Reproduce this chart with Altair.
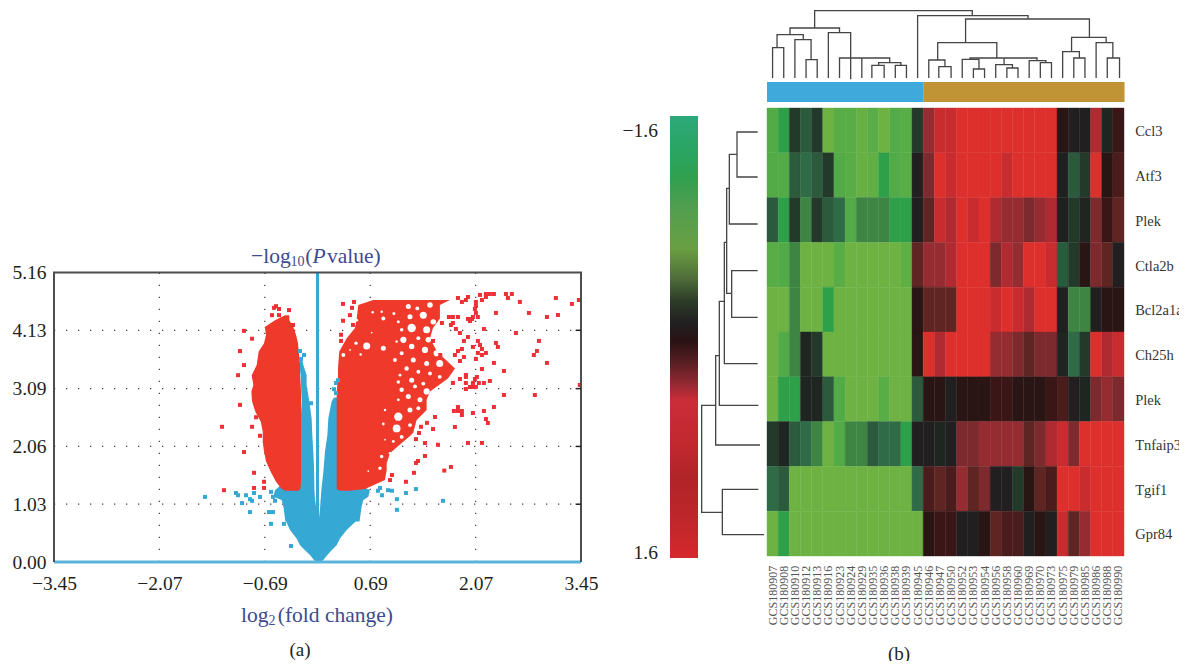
import altair as alt
import pandas as pd

FONT = "Liberation Serif"
NAVY = "#3d4b8f"
INK = "#231f20"
RED = "#ef3a2b"
RED_PT = "#ee2f36"
BLUE = "#36a8d4"

# ---------- volcano data ----------
x_ticks = [-3.45, -2.07, -0.69, 0.69, 2.07, 3.45]
y_ticks = [0.00, 1.03, 2.06, 3.09, 4.13, 5.16]
grid_x = [-2.07, -0.69, 0.69, 2.07]
grid_y = [1.03, 2.06, 3.09, 4.13]

left_y = [4.40,4.31,4.19,4.05,3.90,3.75,3.51,3.33,3.155,3.04,2.86,2.68,2.50,2.32,2.14,1.97,1.79,1.61,1.43,1.30,1.27]
left_l = [-.425,-.556,-.691,-.674,-.70,-.77,-.796,-.861,-.84,-.866,-.857,-.814,-.743,-.717,-.717,-.70,-.674,-.613,-.543,-.469,-.42]
left_r = [-.369,-.369,-.317,-.281,-.255,-.246,-.229,-.229,-.22,-.216,-.216,-.216,-.216,-.216,-.216,-.216,-.216,-.216,-.216,-.225,-.251]

right_y = [4.67,4.58,4.34,4.17,3.99,3.75,3.45,3.27,3.04,2.89,2.71,2.53,2.29,2.12,1.94,1.76,1.64,1.46,1.30,1.27]
right_l = [.73,.534,.513,.491,.382,.285,.268,.268,.251,.251,.251,.251,.251,.251,.251,.251,.251,.251,.251,.295]
right_r = [1.734,1.603,1.603,1.512,1.473,1.564,1.80,1.708,1.473,1.429,1.429,1.298,1.25,1.102,.949,.906,.906,.883,.622,.425]

hole_x = [.722,.84,.862,.513,.709,.504,.644,.862,.565,.338,.425,1.0,1.058,1.189,1.307,1.473,1.669,1.211,1.385,1.516,1.233,1.429,1.582,1.102,1.124,1.32,1.451,1.036,1.233,1.407,1.56,1.102,1.014,1.254,1.429,1.6,1.167,1.32,1.473,1.6,1.08,1.233,1.385,1.058,1.102,1.276,1.429,1.189,1.342,1.058,.884,1.058,1.211,1.32,1.036,1.211,1.254,1.102,.993,.862,.884,1.167,.84,.949,.818,1.058,.665]
hole_y = [4.45,4.46,4.34,4.31,4.09,3.90,3.85,3.81,3.70,3.69,3.78,4.43,4.28,4.552,4.52,4.58,4.57,4.37,4.40,4.28,4.17,4.14,4.11,4.14,3.96,3.99,3.96,3.93,3.84,3.78,3.72,3.72,3.60,3.60,3.54,3.54,3.45,3.39,3.36,3.30,3.33,3.24,3.18,3.21,3.07,3.13,3.04,2.95,2.89,2.89,2.71,2.59,2.71,2.74,2.38,2.44,2.26,2.23,2.15,2.46,2.18,2.09,1.88,1.94,1.67,2.0,1.62]
hole_s = [6,6,16,8,3,11,49,25,6,15,3,9,9,25,15,30,15,25,49,30,70,49,38,12,38,15,30,6,30,38,38,15,15,25,25,49,20,15,15,15,8,25,15,12,20,15,38,25,25,8,6,70,25,15,60,15,15,15,8,8,3,30,12,6,12,12,3]

red_x = [1.839,1.891,1.943,1.97,2.127,2.153,2.205,2.205,2.257,2.31,2.467,2.545,2.493,2.65,3.121,3.422,3.331,2.074,2.074,2.061,2.074,2.035,2.10,1.97,1.996,2.022,2.336,2.768,3.004,3.148,1.721,1.773,1.839,1.629,1.773,1.747,1.812,1.865,2.179,1.97,1.917,2.10,2.127,2.035,2.336,2.362,2.899,2.598,1.891,1.839,1.799,1.607,2.153,2.10,2.153,2.205,2.873,2.833,1.917,1.865,2.074,2.31,3.004,2.153,2.441,1.943,1.943,1.865,2.087,2.061,1.773,1.943,2.035,2.113,2.179,2.257,1.996,2.035,2.074,1.943,3.435,2.441,2.846,1.839,1.786,1.839,1.891,1.891,2.035,2.179,2.31,2.205,2.231,1.799,1.97,2.153,1.747,1.66,
         .334,.478,.452,.425,.334,.465,.308,.308,1.512,1.538,1.355,1.433,1.512,1.329,1.289,1.407,1.577,1.407,1.315,1.289,1.263,.975,.949,1.158,
         -.543,-.569,-.504,-.373,-.596,-.504,-.321,-.962,-.857,-1.015,-.962,-1.04,-.831,-1.015,-.805,-1.25,-.857,-.753,-.962,-.831,-.70,-.831,-.70,-1.224]
red_y = [4.706,4.635,4.67,4.724,4.76,4.67,4.777,4.724,4.777,4.777,4.777,4.777,4.706,4.635,4.706,4.67,4.60,4.635,4.563,4.51,4.439,4.367,4.367,4.332,4.296,4.332,4.439,4.439,4.367,4.403,4.367,4.367,4.367,4.26,4.26,4.225,4.154,4.082,4.154,4.01,3.94,3.94,3.868,3.833,3.904,3.833,3.94,4.082,3.797,3.761,3.69,3.69,3.797,3.726,3.69,3.726,3.761,3.69,3.654,3.583,3.619,3.548,3.548,3.44,3.405,3.334,3.298,3.262,3.298,3.262,3.191,3.191,3.191,3.191,3.191,3.227,3.12,3.12,3.12,3.084,3.155,2.977,2.977,2.763,2.692,2.692,2.692,2.62,2.656,2.692,2.763,2.549,2.478,2.407,2.122,2.122,1.694,1.63,
         4.60,4.635,4.53,4.40,4.30,4.225,4.05,3.94,3.94,2.585,2.41,2.48,2.37,2.30,2.19,2.12,2.09,1.89,1.80,1.765,1.59,1.55,1.46,1.43,
         4.56,4.53,4.51,4.49,4.40,4.40,4.225,4.12,3.98,3.76,3.51,3.33,3.30,2.80,2.58,2.41,2.41,2.25,1.96,1.59,1.43,1.32,1.32,1.28]

blue_x = [-.229,-.177,-.216,-.085,.242,.268,.216,.242,-1.473,-1.067,-1.04,-.936,-.831,-.884,-.857,-.988,-.753,-.884,-.609,-.583,-.556,-.635,-.583,-.609,-.439,-.347,.818,.792,.844,.923,.975,1.158,1.289,1.04,1.04,1.643]
blue_y = [3.76,3.69,3.62,2.83,3.19,3.24,3.08,3.01,1.16,1.23,1.19,1.19,1.23,1.12,1.09,1.05,1.16,.89,1.25,1.16,1.09,.89,.89,.68,.68,.285,1.32,1.27,1.19,1.28,1.27,1.23,1.30,1.12,.93,1.09]

body_y = [0,.036,.125,.21,.30,.42,.57,.75]
body_l = [-.02,-.046,-.098,-.164,-.229,-.273,-.36,-.42]
body_r = [.05,.076,.129,.185,.251,.294,.382,.52]

wing_l_y = [.72,.99,1.105,1.165,1.28,1.7,1.97,2.26,2.56,2.86,3.15,3.33,3.51,3.6]
wing_l_l = [-.42,-.447,-.469,-.578,-.556,-.22,-.22,-.22,-.22,-.207,-.216,-.222,-.238,-.235]
wing_l_r = [0,-.02,-.03,-.035,-.04,-.046,-.055,-.068,-.077,-.107,-.142,-.142,-.185,-.2]

wing_r_y = [.72,.99,1.105,1.165,1.28,1.6,1.97,2.26,2.56,2.86,2.93]
wing_r_l = [.015,.035,.04,.045,.05,.076,.098,.129,.142,.185,.216]
wing_r_r = [.55,.578,.6,.665,.687,.26,.26,.26,.26,.26,.26]

# ---------- heatmap data ----------
samples = ["GCS1809" + s for s in "07 08 10 12 13 16 23 24 29 35 36 38 39 45 46 47 50 52 53 54 56 58 60 69 70 73 75 79 85 86 88 90".split()]
genes = ["Ccl3","Atf3","Plek","Ctla2b","Bcl2a1a","Ch25h","Plek","Tnfaip3","Tgif1","Gpr84"]

G,g,S,m,d,e,k,n,O = -1.6,-1.4,-1.2,-.9,-.7,-.5,-.25,-.1,0
r1,r2,r3,r4,r5,r6,r7,r8,r9 = .1,.2,.3,.4,.6,.8,1.0,1.2,1.6
L = -1.45
heat = [
 [g,S,k,e,k,G,L,L,-1.55,L,G,g,L,k,r6,r8,r8,r9,r9,r9,r9,r9,r9,r9,r9,r9,r1,O,O,r7,n,r2],
 [g,g,e,d,e,k,g,L,-1.55,-1.5,S,g,L,O,r5,r9,r8,r9,r9,r9,r9,r8,r9,r9,r9,r9,O,e,k,r9,r1,r3],
 [e,S,k,m,k,e,d,g,m,m,m,S,S,O,r4,r8,r7,r9,r8,r9,r7,r6,r6,r5,r6,r7,O,k,n,r5,r2,r4],
 [L,g,m,G,G,G,L,G,G,G,G,G,-1.5,r4,r6,r6,r7,r9,r9,r9,r5,r7,r6,r9,r9,r8,e,k,r1,r5,r4,O],
 [G,G,m,G,G,S,G,G,G,G,G,G,G,r1,r4,r4,r4,r9,r9,r9,r8,r9,r8,r7,r9,r9,O,m,m,O,r1,r1],
 [G,g,m,n,k,G,G,G,G,G,G,G,G,r1,r9,r7,r9,r9,r9,r9,r6,r6,r5,r4,r5,r5,n,d,k,r9,r7,r8],
 [G,S,S,n,n,e,g,G,G,G,L,G,G,e,r1,r1,O,r1,r1,r1,r2,r2,r1,r1,r1,r2,r3,O,n,r5,r6,r5],
 [k,n,e,d,m,G,g,m,m,e,d,d,S,O,O,n,O,r5,r5,r6,r6,r6,r6,r4,r5,r7,r8,r5,r9,r9,r9,r9],
 [d,e,G,G,G,G,G,G,G,G,G,G,G,d,r3,r4,r3,r6,r4,r5,O,O,k,r1,r4,r3,r9,r9,r8,r9,r9,r9],
 [G,S,G,G,G,G,G,G,G,G,G,G,G,G,r1,r2,r2,O,O,r1,r4,r3,r3,O,r1,O,r8,r4,r6,r9,r9,r9],
]
heat_stops = [G,g,S,m,d,e,k,n,O,r1,r2,r3,r4,r5,r6,r7,r8,r9]
heat_cols = ["#6eb243","#52ab47","#2fa04a","#3e8544","#306b48","#2b5a3c","#233a2b","#1f2622","#221f20","#2a1515","#3a1617","#4a1c1c","#5f2523","#7d2a2e","#952c32","#b02b31","#c92c2f","#dd302c"]

group_start = [0, 14]
group_end = [14, 32.05]
group_col = ["#3fa9dc", "#c09335"]

# dendrogram along the top: left leg, right leg, level, left foot, right foot
top_xl = [.5,3.5,2.5,.9,2.06,5.5,6.5,8.5,9.4,11.5,10,4.27,13.5,17.8,15.3,14.5,15.4,18.2,17.5,18.5,21.25,20.5,21.5,23.5,24.5,27.3,26.5,27.5,29.5,30.5]
top_xr = [1.5,4.5,3.95,3.25,6.5,7.5,11,8.5,10.5,12.5,12,18.4,23.4,28.9,20.6,15.95,16.5,24.2,19,19.5,21.25,22,22.5,25,25.5,30.4,28,28.5,31,31.6]
top_lv = [143,179,119,104,84,98,174,174,196,196,188,32,47,57,128,180,200,174,178,207,174,194,204,182,188,112,155,174,128,174]
top_fl = [234,234,234,143,104,234,234,234,234,234,196,84,234,128,180,234,234,178,234,234,194,234,234,234,234,155,234,234,234,234]
top_fr = [234,234,179,119,98,238,188,234,234,234,196,47,57,112,174,200,234,182,207,234,194,204,234,188,234,128,174,234,174,234]

# dendrogram on the left: upper foot, lower foot, join position, upper y, lower y
side_x  = [351,328,320,335,313,298,287,245,307]
side_y0 = [96,163,265,512,427,604,767,916,1168]
side_y1 = [231,372,580,652,791,916,1035,1237,1304]
side_e0 = [413,351,328,413,320,313,298,287,415]
side_e1 = [413,413,335,413,413,415,420,307,432]

bar_stops = [(0,"#2ca97a"),(.08,"#2aa562"),(.14,"#2fa04e"),(.2,"#4f9e50"),(.3,"#6a9f42"),(.37,"#4e6b39"),(.42,"#2b3a27"),(.47,"#211f20"),(.51,"#2a1214"),(.56,"#5a2023"),(.6,"#8c2830"),(.645,"#cb2d39"),(.75,"#c0282e"),(.82,"#b02428"),(.92,"#c0272b"),(1,"#d6282c")]

# ---------- scales (page pixel minus the 8px margin) ----------
vx = alt.Scale(domain=[-3.45, 3.45], range=[46, 573], nice=False, zero=False)
vy = alt.Scale(domain=[0, 5.16], range=[554, 264.5], nice=False, zero=False)
hx = alt.Scale(domain=[0, 32], range=[759, 1116], nice=False, zero=False)
hy = alt.Scale(domain=[0, 10], range=[100, 548], nice=False, zero=False)
ty = alt.Scale(domain=[0, 234], range=[-8, 70], nice=False, zero=False)
sx = alt.Scale(domain=[240, 440], range=[692, 758.67], nice=False, zero=False)
sy = alt.Scale(domain=[0, 1410], range=[92, 562], nice=False, zero=False)
bx = alt.Scale(domain=[0, 1], range=[662, 690], nice=False, zero=False)
by = alt.Scale(domain=[-1.6, 1.6], range=[108, 550], nice=False, zero=False)

def X(f, s, **kw):
    return alt.X(f, type="quantitative", scale=s, axis=None, **kw)
def Y(f, s, **kw):
    return alt.Y(f, type="quantitative", scale=s, axis=None, **kw)

def label(text, x, y, xs, ys, size, color=INK, align="left", **mk):
    df = pd.DataFrame({"x": [x], "y": [y], "t": [text]})
    return alt.Chart(df).mark_text(font=FONT, fontSize=size, color=color, align=align, baseline="alphabetic", **mk).encode(
        x=X("x", xs), y=Y("y", ys), text="t:N")

def band(ys, ls, rs, color):
    df = pd.DataFrame({"y": ys, "l": ls, "r": rs})
    return alt.Chart(df).mark_area(orient="horizontal", color=color, interpolate="linear").encode(
        y=Y("y", vy), x=X("l", vx), x2="r:Q")

layers = []

# volcano grid
df_gx = pd.DataFrame({"x": grid_x})
df_gy = pd.DataFrame({"y": grid_y})
layers.append(alt.Chart(df_gx).mark_rule(color="#444", strokeWidth=1.3, strokeDash=[1.3, 10.7]).encode(
    x=X("x", vx), y=alt.YDatum(0, scale=vy, axis=None), y2=alt.Y2Datum(5.16)))
layers.append(alt.Chart(df_gy).mark_rule(color="#444", strokeWidth=1.3, strokeDash=[1.3, 10.7]).encode(
    y=Y("y", vy), x=alt.XDatum(-3.45, scale=vx, axis=None), x2=alt.X2Datum(3.45)))

layers.append(band(body_y, body_l, body_r, BLUE))
layers.append(band(wing_l_y, wing_l_l, wing_l_r, BLUE))
layers.append(band(wing_r_y, wing_r_l, wing_r_r, BLUE))

layers.append(alt.Chart(pd.DataFrame({"x": [0]})).mark_rule(color=BLUE, strokeWidth=3).encode(
    x=X("x", vx), y=alt.YDatum(0, scale=vy, axis=None), y2=alt.Y2Datum(5.16)))
layers.append(alt.Chart(pd.DataFrame({"y": [0]})).mark_rule(color="#5ab4da", strokeWidth=3).encode(
    y=Y("y", vy), x=alt.XDatum(-3.45, scale=vx, axis=None), x2=alt.X2Datum(3.45)))

layers.append(band(left_y, left_l, left_r, RED))
layers.append(band(right_y, right_l, right_r, RED))
layers.append(alt.Chart(pd.DataFrame({"x": hole_x, "y": hole_y, "s": hole_s})).mark_point(
    filled=True, shape="circle", color="white", opacity=1).encode(
    x=X("x", vx), y=Y("y", vy), size=alt.Size("s:Q", scale=None, legend=None)))
layers.append(alt.Chart(pd.DataFrame({"x": red_x, "y": red_y})).mark_square(color=RED_PT, size=16, opacity=1).encode(
    x=X("x", vx), y=Y("y", vy)))
layers.append(alt.Chart(pd.DataFrame({"x": blue_x, "y": blue_y})).mark_square(color=BLUE, size=16, opacity=1).encode(
    x=X("x", vx), y=Y("y", vy)))

# frame and axes
frame = pd.DataFrame({"x": [-3.45, -3.45, 3.45, 3.45], "y": [0, 5.16, 5.16, 0], "o": [0, 1, 2, 3]})
axis_common = dict(grid=False, ticks=False, domain=False, labelFont=FONT, labelFontSize=19.5, labelColor=INK,
                   title=None, format=".2f", labelOverlap=False)
layers.append(alt.Chart(frame).mark_line(color="#4d4d4d", strokeWidth=2).encode(
    x=alt.X("x:Q", scale=vx, axis=alt.Axis(values=x_ticks, orient="bottom", offset=-99, labelPadding=12, labelFlush=False, **axis_common)),
    y=alt.Y("y:Q", scale=vy, axis=alt.Axis(values=y_ticks, orient="left", offset=-46, labelPadding=8, **axis_common)),
    order="o:Q"))
layers.append(alt.Chart(pd.DataFrame({"y": grid_y, "a": [3.38]*4, "b": [3.45]*4})).mark_rule(color="#222", strokeWidth=1.5).encode(
    y=Y("y", vy), x=X("a", vx), x2="b:Q"))

# volcano titles
layers += [
    label("\u2212log", -0.87, 5.33, vx, vy, 21.5, NAVY),
    label("10", -0.355, 5.27, vx, vy, 14, NAVY),
    label("(", -0.16, 5.33, vx, vy, 21.5, NAVY),
    label("P", -0.065, 5.33, vx, vy, 21.5, NAVY, fontStyle="italic"),
    label(" value)", 0.125, 5.33, vx, vy, 21.5, NAVY),
    label("log", -1.0, -1.07, vx, vy, 21.5, NAVY),
    label("2", -0.64, -1.13, vx, vy, 14, NAVY),
    label("(fold change)", -0.52, -1.07, vx, vy, 21.5, NAVY),
    label("(a)", -0.23, -1.68, vx, vy, 19, INK, align="center"),
]

# colour bar
layers.append(alt.Chart(pd.DataFrame({"a": [0], "b": [1], "lo": [-1.6], "hi": [1.6]})).mark_rect(
    color=alt.Gradient(gradient="linear", x1=0, x2=0, y1=0, y2=1,
                       stops=[alt.GradientStop(color=c, offset=o) for o, c in bar_stops])).encode(
    x=X("a", bx), x2="b:Q", y=Y("lo", by), y2="hi:Q"))
layers.append(label("\u22121.6", -0.43, -1.45, bx, by, 19.5, align="right"))
layers.append(label("1.6", -0.43, 1.61, bx, by, 19.5, align="right"))

# side dendrogram
side_rows = []
for i in range(len(side_x)):
    for o, (px, py) in enumerate([(side_e0[i], side_y0[i]), (side_x[i], side_y0[i]), (side_x[i], side_y1[i]), (side_e1[i], side_y1[i])]):
        side_rows.append({"id": i, "o": o, "x": px, "y": py})
layers.append(alt.Chart(pd.DataFrame(side_rows)).mark_line(color="#444", strokeWidth=1.3).encode(
    x=X("x", sx), y=Y("y", sy), detail="id:N", order="o:Q"))

# top dendrogram
top_rows = []
for i in range(len(top_xl)):
    for o, (px, py) in enumerate([(top_xl[i], top_fl[i]), (top_xl[i], top_lv[i]), (top_xr[i], top_lv[i]), (top_xr[i], top_fr[i])]):
        top_rows.append({"id": i, "o": o, "x": px, "y": py})
layers.append(alt.Chart(pd.DataFrame(top_rows)).mark_line(color="#444", strokeWidth=1.3).encode(
    x=X("x", hx), y=Y("y", ty), detail="id:N", order="o:Q"))

# sample group bar
layers.append(alt.Chart(pd.DataFrame({"a": group_start, "b": group_end, "t": [-.58]*2, "u": [-.134]*2, "c": group_col})).mark_rect().encode(
    x=X("a", hx), x2="b:Q", y=Y("t", hy), y2="u:Q", color=alt.Color("c:N", scale=None)))

# heatmap
cells = []
for r, row in enumerate(heat):
    for c, v in enumerate(row):
        cells.append({"c0": c, "c1": c + 1, "r0": r, "r1": r + 1, "v": v})
hs = alt.Scale(domain=heat_stops, range=heat_cols)
layers.append(alt.Chart(pd.DataFrame(cells)).mark_rect(strokeWidth=0.4).encode(
    x=X("c0", hx), x2="c1:Q", y=Y("r0", hy), y2="r1:Q",
    color=alt.Color("v:Q", scale=hs, legend=None),
    stroke=alt.Stroke("v:Q", scale=hs, legend=None)))

layers.append(alt.Chart(pd.DataFrame({"t": genes, "x": [33]*10, "y": [i + .63 for i in range(10)]})).mark_text(
    font=FONT, fontSize=14.5, color="#333", align="left", baseline="alphabetic").encode(
    x=X("x", hx), y=Y("y", hy), text="t:N"))
layers.append(alt.Chart(pd.DataFrame({"t": samples, "x": [i + .5 for i in range(32)], "y": [10.22]*32})).mark_text(
    font=FONT, fontSize=12, color="#555", align="right", baseline="middle", angle=270).encode(
    x=X("x", hx), y=Y("y", hy), text="t:N"))
layers.append(label("(b)", 11.83, 12.33, hx, hy, 19, INK, align="center"))

chart = alt.layer(*layers).resolve_scale(x="independent", y="independent", color="independent", stroke="independent", size="independent").resolve_axis(x="independent", y="independent").properties(
    width=1171, height=653, padding=0, autosize=alt.AutoSizeParams(type="none")
).configure_view(stroke=None).configure(background="white") if False else alt.layer(*layers).resolve_scale(x="independent", y="independent", color="independent", stroke="independent", size="independent").properties(
    width=1171, height=653, padding=0, autosize=alt.AutoSizeParams(type="none"), background="white"
).configure_view(stroke=None)

chart.save("out.html", embed_options={"renderer": "svg", "actions": False})
